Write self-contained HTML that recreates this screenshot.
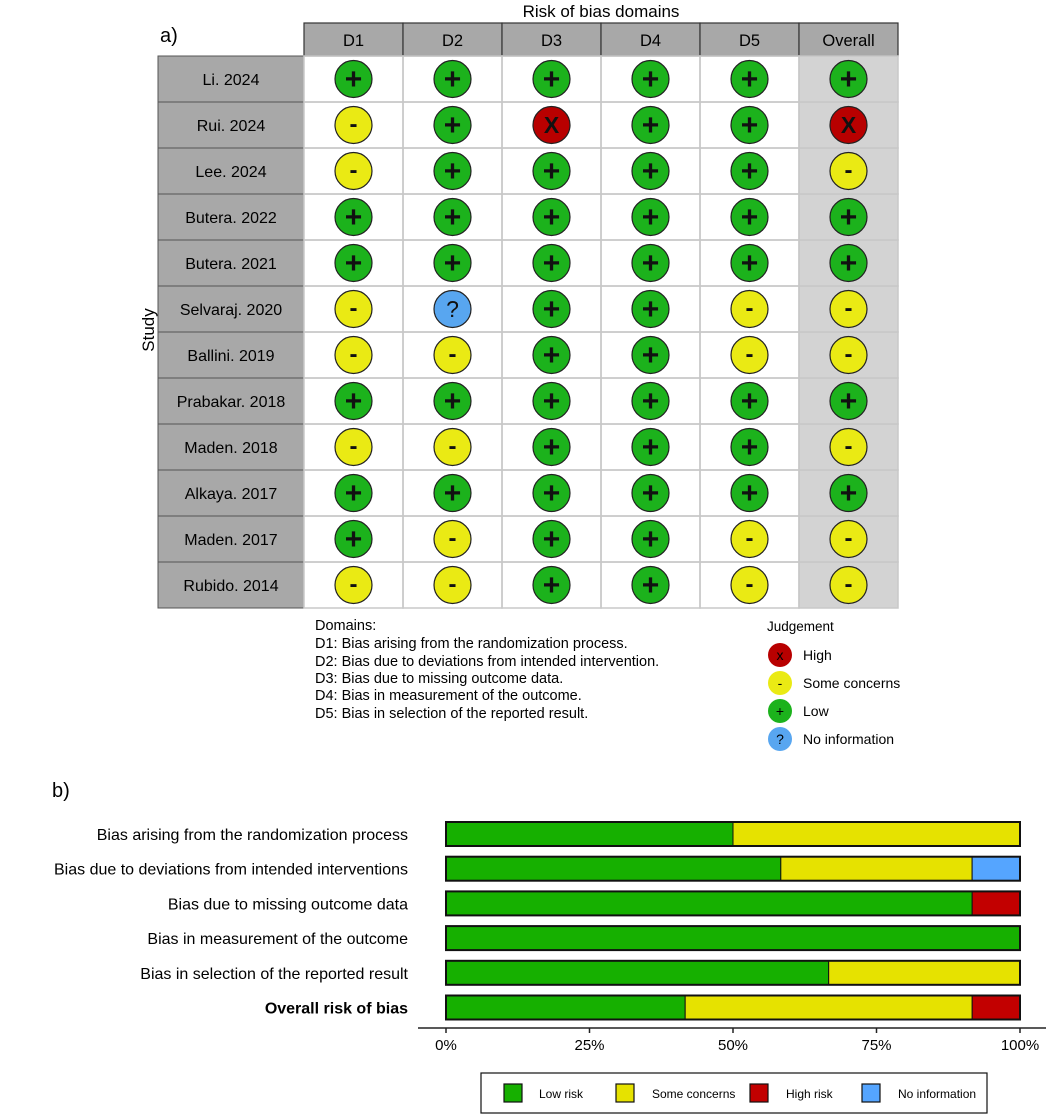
<!DOCTYPE html>
<html><head><meta charset="utf-8"><style>
body{margin:0;background:#fff;}
svg{display:block;font-family:"Liberation Sans",sans-serif;}
</style></head><body>
<svg id="chart" width="1052" height="1118" viewBox="0 0 1052 1118">
<rect width="1052" height="1118" fill="#fff"/>
<text x="160" y="42" font-size="20">a)</text>
<text x="601" y="17" font-size="17" text-anchor="middle">Risk of bias domains</text>
<text transform="translate(154,330) rotate(-90)" font-size="17" text-anchor="middle">Study</text>
<g id="tbl"></g>
<g font-size="14.5">
<text x="315" y="630">Domains:</text>
<text x="315" y="648">D1: Bias arising from the randomization process.</text>
<text x="315" y="666">D2: Bias due to deviations from intended intervention.</text>
<text x="315" y="683">D3: Bias due to missing outcome data.</text>
<text x="315" y="700">D4: Bias in measurement of the outcome.</text>
<text x="315" y="718">D5: Bias in selection of the reported result.</text>
</g>
<g id="jleg">
<text x="767" y="631" font-size="13.5">Judgement</text>
</g>
<text x="52" y="797" font-size="20">b)</text>
<g id="bars"></g>
</svg>
<script>
const NS="http://www.w3.org/2000/svg";
function mk(tag,attrs,parent,txt){const e=document.createElementNS(NS,tag);for(const k in attrs)e.setAttribute(k,attrs[k]);if(txt!==undefined)e.textContent=txt;parent.appendChild(e);return e;}
// ---- Traffic-light data ----
const studies=["Li. 2024","Rui. 2024","Lee. 2024","Butera. 2022","Butera. 2021","Selvaraj. 2020","Ballini. 2019","Prabakar. 2018","Maden. 2018","Alkaya. 2017","Maden. 2017","Rubido. 2014"];
const domains=["D1","D2","D3","D4","D5","Overall"];
const judgements=[
["+","+","+","+","+","+"],
["-","+","X","+","+","X"],
["-","+","+","+","+","-"],
["+","+","+","+","+","+"],
["+","+","+","+","+","+"],
["-","?","+","+","-","-"],
["-","-","+","+","-","-"],
["+","+","+","+","+","+"],
["-","-","+","+","+","-"],
["+","+","+","+","+","+"],
["+","-","+","+","-","-"],
["-","-","+","+","-","-"]];
const fillOf={"+":"#1cb21c","-":"#eaea14","X":"#b80000","?":"#58a6f0"};
const tbl=document.getElementById('tbl');
const labX=158,labW=146,colX0=304,colW=99,headY=23,headH=33,rowY0=56,rowH=46;
domains.forEach((d,j)=>{
 const x=colX0+j*colW;
 const h=mk('rect',{x:x,y:headY,width:colW,height:headH,fill:'#a8a8a8',stroke:'#333','stroke-width':1.2},tbl);
 
 
 mk('text',{x:x+colW/2,y:headY+23,'font-size':16.5,'text-anchor':'middle'},tbl,d);
 if(j===5){const bg=mk('rect',{x:x,y:rowY0,width:colW,height:rowH*studies.length,fill:'#d3d3d3'},tbl);
  
  }
});
studies.forEach((s,i)=>{
 const y=rowY0+i*rowH;
 const r=mk('rect',{x:labX,y:y,width:labW,height:rowH,fill:'#a8a8a8',stroke:'#555','stroke-width':1},tbl);
 
 
 mk('text',{x:labX+labW/2,y:y+rowH/2+6,'font-size':16,'text-anchor':'middle'},tbl,s);
 domains.forEach((d,j)=>{
  const x=colX0+j*colW;
  mk('rect',{x:x,y:y,width:colW,height:rowH,fill:'none',stroke:'#c8c8c8','stroke-width':1.5},tbl);
  const v=judgements[i][j];
  const c=mk('circle',{cx:x+colW/2,cy:y+rowH/2,r:18.5,fill:fillOf[v],stroke:'#222','stroke-width':1.2},tbl);
  
  
  const fs=v==='+'?30:(v==='-'?24:23);
  const dy=v==='+'?10:(v==='-'?7:8);
  mk('text',{x:x+colW/2,y:y+rowH/2+dy,'font-size':fs,'font-weight':v==='?'?'normal':'bold','text-anchor':'middle',fill:'#111'},tbl,v);
 });
});
// judgement legend
const jl=document.getElementById('jleg');
const jItems=[["X","High"],["-","Some concerns"],["+","Low"],["?","No information"]];
jItems.forEach((it,k)=>{
 const cy=655+k*28;
 const c=mk('circle',{cx:780,cy:cy,r:12,fill:fillOf[it[0]]},jl);
 
 
 mk('text',{x:780,y:cy+5,'font-size':14,'text-anchor':'middle'},jl,it[0]==='X'?'x':it[0]);
 mk('text',{x:803,y:cy+5,'font-size':14},jl,it[1]);
});
// ---- Summary bar data ----
const barCats=["Bias arising from the randomization process","Bias due to deviations from intended interventions","Bias due to missing outcome data","Bias in measurement of the outcome","Bias in selection of the reported result","Overall risk of bias"];
const lowRisk=[50,58.33,91.67,100,66.67,41.67];
const someConcerns=[50,33.33,0,0,33.33,50];
const highRisk=[0,0,8.33,0,0,8.33];
const noInfo=[0,8.33,0,0,0,0];
const tickVals=[0,25,50,75,100];
const tickLabels=["0%","25%","50%","75%","100%"];
const series=[["low",lowRisk,"#16b000"],["some",someConcerns,"#e6e200"],["high",highRisk,"#c20000"],["noinfo",noInfo,"#55a5ff"]];
const bg=document.getElementById('bars');
const X0=446,X1=1020,BY0=822,BP=34.7,BH=24;
const xs=v=>X0+(X1-X0)*v/100;
const ys=i=>BY0+i*BP;
barCats.forEach((c,i)=>{
 const t=mk('text',{x:408,y:ys(i)+BH/2+6,'font-size':16,'text-anchor':'end','font-weight':i===5?'bold':'normal'},bg,c);
 
 
 let acc=0;
 series.forEach(s=>{
  const v=s[1][i];
  if(v>0){
   const r=mk('rect',{x:xs(acc),y:ys(i),width:xs(acc+v)-xs(acc),height:BH,fill:s[2],stroke:'#111','stroke-width':1},bg);
   
   
  }
  acc+=v;
 });
 mk('rect',{x:xs(0),y:ys(i),width:xs(100)-xs(0),height:BH,fill:'none',stroke:'#111','stroke-width':2},bg);
});
const ax=mk('line',{x1:418,x2:1046,y1:1028,y2:1028,stroke:'#222','stroke-width':1.5},bg);


tickVals.forEach((v,k)=>{
 mk('line',{x1:xs(v),x2:xs(v),y1:1028,y2:1033,stroke:'#222','stroke-width':1.5},bg);
 const t=mk('text',{x:xs(v),y:1050,'font-size':15,'text-anchor':'middle'},bg,tickLabels[k]);
 
 
});
const lg=mk('rect',{x:481,y:1073,width:506,height:40,fill:'#fff',stroke:'#111','stroke-width':1.2},bg);


const legItems=[["Low risk","#16b000",504,539],["Some concerns","#e6e200",616,652],["High risk","#c20000",750,786],["No information","#55a5ff",862,898]];
legItems.forEach(l=>{
 const r=mk('rect',{x:l[2],y:1084,width:18,height:18,fill:l[1],stroke:'#111','stroke-width':1.2},bg);
 
 
 mk('text',{x:l[3],y:1098,'font-size':12},bg,l[0]);
});
</script>
</body></html>
